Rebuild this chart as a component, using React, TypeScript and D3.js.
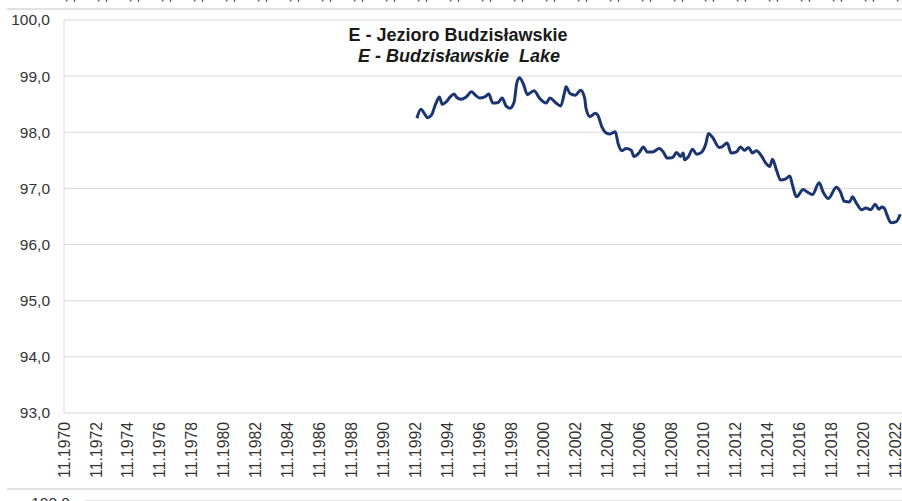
import React from "react";
import * as d3 from "d3";

// Lake E - Budzisławskie, water level (m a.s.l.)
const dates = [
  "1992-12", "1993-03", "1993-06", "1993-08", "1993-11", "1994-02", "1994-05", "1994-07", "1994-10",
  "1995-01", "1995-04", "1995-06", "1995-09", "1996-01", "1996-05", "1996-08", "1996-11", "1997-03",
  "1997-06", "1997-09", "1998-01", "1998-04", "1998-07", "1998-10", "1999-01", "1999-03", "1999-05",
  "1999-08", "1999-11", "2000-01", "2000-04", "2000-08", "2001-01", "2001-04", "2001-08", "2001-12",
  "2002-03", "2002-04", "2002-07", "2002-11", "2003-03", "2003-06", "2003-07", "2003-10", "2004-02",
  "2004-04", "2004-07", "2004-10", "2005-01", "2005-05", "2005-07", "2005-10", "2006-01", "2006-05",
  "2006-07", "2006-11", "2007-02", "2007-05", "2007-09", "2008-02", "2008-05", "2008-08", "2008-12",
  "2009-03", "2009-06", "2009-08", "2009-09", "2009-12", "2010-03", "2010-06", "2010-09", "2011-01",
  "2011-03", "2011-06", "2011-11", "2012-01", "2012-05", "2012-08", "2012-12", "2013-03", "2013-06",
  "2013-09", "2013-12", "2014-03", "2014-07", "2014-10", "2015-01", "2015-03", "2015-06", "2015-09",
  "2016-01", "2016-04", "2016-06", "2016-09", "2017-02", "2017-05", "2017-09", "2018-02", "2018-05",
  "2018-09", "2019-03", "2019-06", "2019-09", "2020-01", "2020-03", "2020-06", "2020-10", "2021-01",
  "2021-05", "2021-08", "2021-11", "2022-01", "2022-03", "2022-05", "2022-08", "2022-12", "2023-03",
];

const levels = [
  98.25, 98.41, 98.32, 98.26, 98.31, 98.5, 98.63, 98.5, 98.54,
  98.63, 98.68, 98.62, 98.59, 98.63, 98.72, 98.66, 98.61, 98.63,
  98.68, 98.52, 98.53, 98.61, 98.47, 98.43, 98.54, 98.87, 98.97,
  98.86, 98.67, 98.7, 98.74, 98.61, 98.52, 98.61, 98.53, 98.47,
  98.72, 98.81, 98.69, 98.66, 98.75, 98.61, 98.43, 98.28, 98.34,
  98.3, 98.09, 97.99, 97.97, 98.01, 97.81, 97.67, 97.71, 97.68,
  97.57, 97.64, 97.74, 97.65, 97.65, 97.71, 97.65, 97.54, 97.55,
  97.64, 97.57, 97.63, 97.51, 97.57, 97.7, 97.61, 97.63, 97.8,
  97.98, 97.91, 97.73, 97.74, 97.81, 97.63, 97.65, 97.74, 97.68,
  97.73, 97.63, 97.67, 97.57, 97.45, 97.39, 97.52, 97.33, 97.15,
  97.17, 97.22, 97.06, 96.85, 96.98, 96.94, 96.89, 97.1, 96.94,
  96.82, 97.02, 96.94, 96.77, 96.76, 96.85, 96.74, 96.62, 96.65,
  96.62, 96.72, 96.63, 96.67, 96.65, 96.53, 96.39, 96.41, 96.54,
];

const tickYears = [
  1970, 1972, 1974, 1976, 1978, 1980, 1982, 1984, 1986, 1988, 1990, 1992, 1994, 1996,
  1998, 2000, 2002, 2004, 2006, 2008, 2010, 2012, 2014, 2016, 2018, 2020, 2022,
];
const levelTicks = [93, 94, 95, 96, 97, 98, 99, 100];

const titlePl = "E - Jezioro Budzisławskie";
const titleEn = "E - Budzisławskie  Lake";

const W = 902;
const H = 501;
const font = "'Liberation Sans', Arial, sans-serif";

export default function App() {
  const parse = d3.timeParse("%Y-%m");
  const series = dates.map((d, i) => ({ date: parse(d) as Date, value: levels[i] }));

  const x = d3
    .scaleTime()
    .domain([new Date(1970, 10, 1), new Date(2022, 10, 1)])
    .range([64, 895]);
  const y = d3.scaleLinear().domain([93, 100]).range([413, 20]);

  const line = d3
    .line<{ date: Date; value: number }>()
    .x((d) => x(d.date))
    .y((d) => y(d.value))
    .curve(d3.curveMonotoneX);

  const fmtY = (v: number) => d3.format(".1f")(v).replace(".", ",");
  const tickDate = (yr: number) => new Date(yr, 10, 1);

  return (
    <svg
      width={W}
      height={H}
      style={{ position: "absolute", left: 0, top: 0, background: "#fff" }}
      fontFamily={font}
    >
      {/* tail of the chart above */}
      {tickYears.map((yr) => (
        <text
          key={"p" + yr}
          transform={`translate(${x(tickDate(yr)) + 6},3) rotate(-90)`}
          fontSize={15}
          fill="#333"
          dy="0.35em"
          textAnchor="start"
        >
          11.{yr}
        </text>
      ))}
      <line x1={7} x2={W} y1={9} y2={9} stroke="#d9d9d9" strokeWidth={1.5} />

      {/* gridlines */}
      {levelTicks.map((t) => (
        <line key={t} x1={64} x2={W} y1={y(t)} y2={y(t)} stroke="#d9d9d9" strokeWidth={1} />
      ))}
      <line x1={64} x2={64} y1={y(100)} y2={y(93)} stroke="#d9d9d9" strokeWidth={1} />

      {/* y labels */}
      {levelTicks.map((t) => (
        <text
          key={"l" + t}
          x={50}
          y={y(t)}
          dy="0.35em"
          textAnchor="end"
          fontSize={15.5}
          fill="#333"
        >
          {fmtY(t)}
        </text>
      ))}

      {/* x labels */}
      {tickYears.map((yr) => (
        <text
          key={"x" + yr}
          transform={`translate(${x(tickDate(yr))},422) rotate(-90)`}
          dy="0.35em"
          textAnchor="end"
          fontSize={15.8}
          fill="#333"
        >
          {d3.timeFormat("%m.%Y")(tickDate(yr))}
        </text>
      ))}

      {/* series */}
      <path d={line(series) ?? ""} fill="none" stroke="#1b3570" strokeWidth={3} strokeLinejoin="round" />

      {/* title */}
      <text x={458} y={41} textAnchor="middle" fontSize={18} fontWeight="bold" fill="#1a1a1a">
        {titlePl}
      </text>
      <text
        x={459}
        y={62}
        textAnchor="middle"
        fontSize={18}
        fontWeight="bold"
        fontStyle="italic"
        fill="#1a1a1a"
        style={{ whiteSpace: "pre" }}
      >
        {titleEn}
      </text>

      {/* head of the chart below */}
      <line x1={7} x2={W} y1={489} y2={489} stroke="#d9d9d9" strokeWidth={1.5} />
      <line x1={85} x2={W} y1={500.5} y2={500.5} stroke="#e6e6e6" strokeWidth={1} />
      <text x={70} y={508} textAnchor="end" fontSize={15.5} fill="#333">
        100,0
      </text>
    </svg>
  );
}
